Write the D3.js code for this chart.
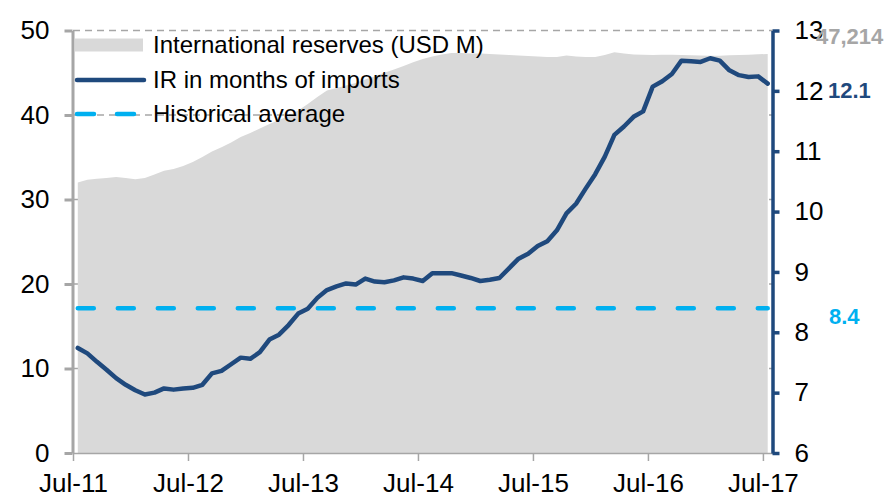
<!DOCTYPE html>
<html><head><meta charset="utf-8">
<script src="https://cdn.jsdelivr.net/npm/d3@7"></script>
<style>
body{margin:0;background:#fff}
svg{display:block;font-family:Arial,"Liberation Sans",sans-serif}
</style>
</head><body>
<svg id="chart" width="895" height="498"></svg>
<script>
// ---- DATA ----
const months = [
 "2011-07","2011-08","2011-09","2011-10","2011-11","2011-12",
 "2012-01","2012-02","2012-03","2012-04","2012-05","2012-06",
 "2012-07","2012-08","2012-09","2012-10","2012-11","2012-12",
 "2013-01","2013-02","2013-03","2013-04","2013-05","2013-06",
 "2013-07","2013-08","2013-09","2013-10","2013-11","2013-12",
 "2014-01","2014-02","2014-03","2014-04","2014-05","2014-06",
 "2014-07","2014-08","2014-09","2014-10","2014-11","2014-12",
 "2015-01","2015-02","2015-03","2015-04","2015-05","2015-06",
 "2015-07","2015-08","2015-09","2015-10","2015-11","2015-12",
 "2016-01","2016-02","2016-03","2016-04","2016-05","2016-06",
 "2016-07","2016-08","2016-09","2016-10","2016-11","2016-12",
 "2017-01","2017-02","2017-03","2017-04","2017-05","2017-06",
 "2017-07"
];
const tickLabels = ["Jul-11","Jul-12","Jul-13","Jul-14","Jul-15","Jul-16","Jul-17"];
const tickMonths = ["2011-07","2012-07","2013-07","2014-07","2015-07","2016-07","2017-07"];

// International reserves, USD M
const reservesUSDm = [
 32000,32330,32450,32540,32660,32540,32400,32540,32960,33400,33610,33960,
 34440,35030,35680,36180,36750,37400,37870,38400,38930,39410,39880,40530,
 41300,42130,42900,43200,43490,43790,44200,44580,44990,45380,45800,46250,
 46630,46920,47160,47340,47340,47280,47280,47220,47160,47100,47040,46980,
 46920,46860,46860,47040,46920,46860,46860,47100,47420,47280,47160,47130,
 47100,47130,47130,47100,47080,47040,47010,47010,47070,47100,47130,47190,
 47214
];
// IR in months of imports
const irMonths = [
 7.74,7.65,7.51,7.38,7.24,7.13,7.04,6.97,7.00,7.07,7.05,7.07,
 7.08,7.13,7.32,7.36,7.47,7.58,7.56,7.67,7.88,7.96,8.12,8.31,
 8.39,8.57,8.70,8.76,8.81,8.79,8.89,8.84,8.83,8.86,8.91,8.89,
 8.85,8.98,8.98,8.98,8.94,8.90,8.85,8.87,8.90,9.06,9.22,9.30,
 9.43,9.51,9.69,9.97,10.13,10.38,10.62,10.91,11.27,11.41,11.57,11.66,
 12.07,12.16,12.28,12.50,12.49,12.48,12.54,12.50,12.34,12.26,12.23,12.24,
 12.12
];
const historicalAverage = 8.4;
const leftTicks = [0,10000,20000,30000,40000,50000];
const rightTicks = [6,7,8,9,10,11,12,13];
const legendLabels = ["International reserves (USD M)","IR in months of imports","Historical average"];

// ---- STYLE ----
const C = {area:"#D9D9D9", line:"#1F497D", avg:"#00B0F0", axis:"#A6A6A6", text:"#000"};
const FS = 26, LFS = 24, BFS = 22;

const svg = d3.select("#chart");
const L = 73, R = 772.5, T = 30.5, B = 453;

const x = d3.scaleLinear().domain([0, months.length]).range([L, R]);
const xc = i => x(i + 0.5);
const yL = d3.scaleLinear().domain([0, 50000]).range([B, T]);
const yR = d3.scaleLinear().domain([6, 13]).range([B, T]);

// gridlines (dashed), mostly hidden under area
svg.append("g").selectAll("line").data(leftTicks.filter(d => d > 0)).join("line")
  .attr("x1", L).attr("x2", R).attr("y1", d => yL(d)).attr("y2", d => yL(d))
  .attr("stroke", C.axis).attr("stroke-width", 1.5).attr("stroke-dasharray", "7,5");

// area
const area = d3.area().x((d, i) => xc(i)).y0(yL(0)).y1(d => yL(d));
svg.append("path").datum(reservesUSDm).attr("d", area).attr("fill", C.area);

// historical average
svg.append("line")
  .attr("x1", xc(0)).attr("x2", xc(months.length - 1))
  .attr("y1", yR(historicalAverage)).attr("y2", yR(historicalAverage))
  .attr("stroke", C.avg).attr("stroke-width", 4.5)
  .attr("stroke-dasharray", "16,24").attr("stroke-linecap", "round");

// IR line
const line = d3.line().x((d, i) => xc(i)).y(d => yR(d));
svg.append("path").datum(irMonths).attr("d", line)
  .attr("fill", "none").attr("stroke", C.line).attr("stroke-width", 4.5)
  .attr("stroke-linejoin", "round").attr("stroke-linecap", "round");

// x axis
const xIdx = tickMonths.map(m => months.indexOf(m));
const gx = svg.append("g").attr("transform", `translate(0,${B})`)
  .call(d3.axisBottom(x).tickValues(xIdx).tickFormat((d, k) => tickLabels[k])
    .tickSize(8).tickSizeOuter(0).tickPadding(13));
gx.select(".domain").attr("stroke", C.axis).attr("stroke-width", 1.5);
gx.selectAll(".tick line").attr("stroke", C.axis).attr("stroke-width", 1.5);
gx.selectAll("text").attr("font-size", FS).attr("fill", C.text).attr("font-family", null);

// left axis
const gl = svg.append("g").attr("transform", `translate(${L - 0.5},0)`)
  .call(d3.axisLeft(yL).tickValues(leftTicks).tickFormat(d => d / 1000)
    .tickSize(8).tickSizeOuter(0).tickPadding(15));
gl.select(".domain").attr("stroke", C.axis).attr("stroke-width", 3);
gl.selectAll(".tick line").attr("stroke", C.axis).attr("stroke-width", 3);
gl.selectAll("text").attr("font-size", FS).attr("fill", C.text).attr("font-family", null);

// right axis
const gr = svg.append("g").attr("transform", `translate(${R},0)`)
  .call(d3.axisRight(yR).tickValues(rightTicks).tickFormat(d3.format("d"))
    .tickSize(7).tickSizeOuter(0).tickPadding(15));
gr.select(".domain").attr("stroke", C.line).attr("stroke-width", 3.5);
gr.selectAll(".tick line").attr("stroke", C.line).attr("stroke-width", 3.5);
gr.selectAll("text").attr("font-size", FS).attr("fill", C.text).attr("font-family", null);

// end labels
const lastR = reservesUSDm[reservesUSDm.length - 1];
const lastIR = irMonths[irMonths.length - 1];
svg.append("text").attr("x", 816).attr("y", yL(lastR) - 18).attr("dy", "0.35em")
  .attr("font-size", BFS).attr("font-weight", "bold").attr("fill", C.axis)
  .text(d3.format(",")(lastR));
svg.append("text").attr("x", 828).attr("y", yR(lastIR) + 7).attr("dy", "0.35em")
  .attr("font-size", BFS).attr("font-weight", "bold").attr("fill", C.line)
  .text(d3.format(".1f")(lastIR));
svg.append("text").attr("x", 829).attr("y", yR(historicalAverage) + 8).attr("dy", "0.35em")
  .attr("font-size", BFS).attr("font-weight", "bold").attr("fill", C.avg)
  .text(d3.format(".1f")(historicalAverage));

// legend
const lg = svg.append("g");
const ly = [45, 80, 114];
lg.append("rect").attr("x", 75).attr("y", ly[0] - 6.5).attr("width", 68).attr("height", 13).attr("fill", C.area);
lg.append("line").attr("x1", 77).attr("x2", 144).attr("y1", ly[1]).attr("y2", ly[1])
  .attr("stroke", C.line).attr("stroke-width", 4.5).attr("stroke-linecap", "round");
lg.append("line").attr("x1", 77).attr("x2", 140).attr("y1", ly[2]).attr("y2", ly[2])
  .attr("stroke", C.avg).attr("stroke-width", 4.5).attr("stroke-linecap", "round")
  .attr("stroke-dasharray", "17,23");
lg.selectAll("text.lt").data(legendLabels).join("text").attr("class", "lt")
  .attr("x", 153).attr("y", (d, i) => ly[i]).attr("dy", "0.35em")
  .attr("font-size", LFS).attr("fill", C.text).text(d => d);
</script>
</body></html>
